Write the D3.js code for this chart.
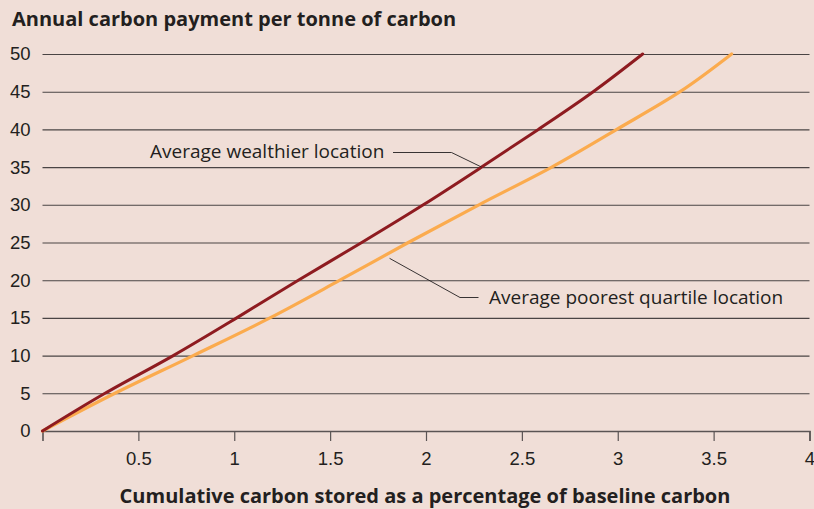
<!DOCTYPE html>
<html>
<head>
<meta charset="utf-8">
<script src="https://cdn.jsdelivr.net/npm/d3@7"></script>
<style>
  body { margin: 0; background: #f0ded7; }
  svg { display: block; font-family: "Open Sans", "DejaVu Sans", sans-serif; }
</style>
</head>
<body>
<svg id="chart" width="814" height="509"></svg>
<script>
// payment levels (y) and the cumulative carbon stored at each (x)
const payments = [0, 5, 10, 15, 20, 25, 30, 35, 40, 45, 50];
const wealthier = [0, 0.326, 0.682, 1.013, 1.334, 1.665, 1.986, 2.29, 2.586, 2.872, 3.13];
const poorest = [0, 0.378, 0.786, 1.186, 1.551, 1.908, 2.276, 2.656, 2.995, 3.325, 3.594];

const xTicks = [0.5, 1, 1.5, 2, 2.5, 3, 3.5, 4];
const yTicks = [0, 5, 10, 15, 20, 25, 30, 35, 40, 45, 50];

const width = 814, height = 509;
const margin = { left: 42.5, right: 4.5, top: 54, bottom: 78 };

const svg = d3.select('#chart');

const x = d3.scaleLinear().domain([0, 4]).range([margin.left, width - margin.right]);
const y = d3.scaleLinear().domain([0, 50]).range([height - margin.bottom, margin.top]);

// horizontal grid + y labels
const yAxis = svg.append('g')
	.attr('transform', 'translate(' + margin.left + ',0)')
	.call(d3.axisLeft(y).tickValues(yTicks).tickSize(-(x.range()[1] - x.range()[0])).tickPadding(12));
yAxis.select('.domain').remove();
yAxis.selectAll('.tick line').attr('stroke', '#4a4444').attr('stroke-width', 1.1);
yAxis.selectAll('.tick text')
	.attr('fill', '#231f20')
	.style('font-size', '18.5px');

// x axis
const xAxis = svg.append('g')
	.attr('transform', 'translate(0,' + y(0) + ')')
	.call(d3.axisBottom(x).tickValues(xTicks).tickSize(10).tickPadding(11).tickFormat(d3.format('')));
xAxis.select('.domain').attr('stroke', '#5a5454').attr('stroke-width', 1.6);
xAxis.selectAll('.tick line').attr('stroke', '#5a5454').attr('stroke-width', 1.2);
xAxis.selectAll('.tick text')
	.attr('fill', '#231f20')
	.style('font-size', '18.5px');

// curves
const line = d3.line()
	.x(d => x(d[0]))
	.y(d => y(d[1]))
	.curve(d3.curveMonotoneY);

svg.append('path')
	.datum(poorest.map((v, i) => [v, payments[i]]))
	.attr('d', line)
	.attr('fill', 'none')
	.attr('stroke', '#fbab4e')
	.attr('stroke-width', 3.2)
	.attr('stroke-linecap', 'round');

svg.append('path')
	.datum(wealthier.map((v, i) => [v, payments[i]]))
	.attr('d', line)
	.attr('fill', 'none')
	.attr('stroke', '#8e1b20')
	.attr('stroke-width', 3)
	.attr('stroke-linecap', 'round');

// annotations
const ann = svg.append('g').attr('fill', '#231f20').style('font-size', '19px');

svg.append('polyline')
	.attr('points', [[393, 152.5], [451.5, 152.5], [x(2.29), y(35)]].join(' '))
	.attr('fill', 'none').attr('stroke', '#231f20').attr('stroke-width', 0.9);
ann.append('text').attr('x', 150).attr('y', 158).text('Average wealthier location');

svg.append('polyline')
	.attr('points', [[x(1.81), y(22.9)], [460, 297.5], [478.5, 297.5]].join(' '))
	.attr('fill', 'none').attr('stroke', '#231f20').attr('stroke-width', 0.9);
ann.append('text').attr('x', 489).attr('y', 304).text('Average poorest quartile location');

// titles
svg.append('text')
	.attr('x', 12).attr('y', 26)
	.attr('fill', '#231f20')
	.style('font-size', '20px').style('font-weight', 'bold')
	.text('Annual carbon payment per tonne of carbon');

svg.append('text')
	.attr('x', 425).attr('y', 503)
	.attr('text-anchor', 'middle')
	.attr('fill', '#231f20')
	.style('font-size', '20px').style('font-weight', 'bold')
	.text('Cumulative carbon stored as a percentage of baseline carbon');
</script>
</body>
</html>
